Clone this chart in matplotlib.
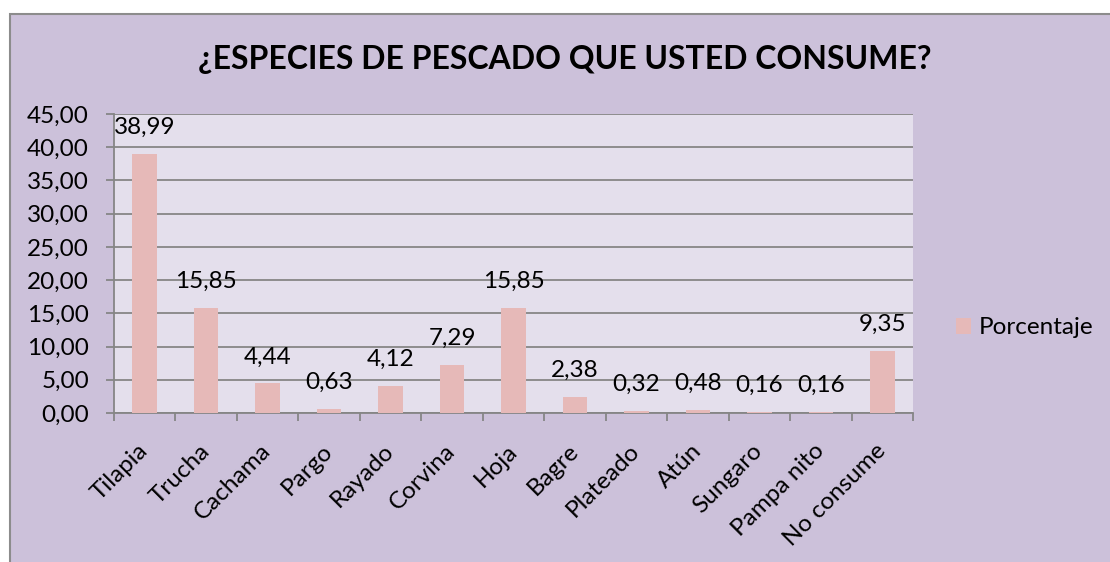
import matplotlib

matplotlib.use("Agg")
import matplotlib.pyplot as plt
from matplotlib.patches import Rectangle

# data
species = ["Tilapia", "Trucha", "Cachama", "Pargo", "Rayado", "Corvina", "Hoja",
           "Bagre", "Plateado", "Atún", "Sungaro", "Pampa nito", "No consume"]
porcentaje = [38.99, 15.85, 4.44, 0.63, 4.12, 7.29, 15.85, 2.38, 0.32, 0.48, 0.16, 0.16, 9.35]
y_ticks = [0, 5, 10, 15, 20, 25, 30, 35, 40, 45]

OUTER = "#CCC1DA"
INNER = "#E4DFEC"
BAR = "#E6B9B8"
GRID = "#868686"
FS = 17.5

plt.rcParams["font.family"] = ["Lato", "DejaVu Sans"]

W, H = 1110, 562
fig = plt.figure(figsize=(W / 100, H / 100), dpi=100)
fig.patch.set_facecolor("white")

# chart area panel (only left and top border visible in the reference)
fig.patches.append(Rectangle((10 / W, -0.1), 1.2, 1 - 14 / H + 0.1,
                             transform=fig.transFigure, facecolor=OUTER,
                             edgecolor="#8C8C8C", linewidth=1.5, zorder=-5))

ax = fig.add_axes([114 / W, 1 - 413 / H, 799 / W, 299 / H])
ax.set_zorder(2)
ax.set_facecolor(INNER)

x = list(range(len(species)))
bars = ax.bar(x, porcentaje, width=0.4, color=BAR, zorder=3, label="Porcentaje")

for xi, v in zip(x, porcentaje):
    ax.annotate(f"{v:.2f}".replace(".", ","), (xi, v), xytext=(0, 19),
                textcoords="offset points", ha="center", va="center",
                fontsize=FS, zorder=4)

ax.set_xlim(-0.5, len(species) - 0.5)
ax.set_ylim(0, 45)
ax.set_yticks(y_ticks)
ax.set_yticklabels([f"{t:.2f}".replace(".", ",") for t in y_ticks], fontsize=FS)
ax.yaxis.grid(True, color=GRID, linewidth=1.3, zorder=1)
ax.set_axisbelow(True)

# ticks between categories, labels at category centres
ax.set_xticks([i - 0.5 for i in range(len(species) + 1)])
ax.set_xticklabels([])
ax.set_xticks(x, minor=True)
ax.set_xticklabels(species, minor=True, rotation=45, ha="right", va="center",
                   rotation_mode="anchor", fontsize=FS)
ax.tick_params(axis="x", which="minor", length=0, pad=25)
ax.tick_params(axis="x", which="major", length=6, color=GRID, width=1.3)
ax.tick_params(axis="y", length=6, color=GRID, width=1.3, pad=12)

for side in ("top", "right"):
    ax.spines[side].set_visible(False)
for side in ("left", "bottom"):
    ax.spines[side].set_color(GRID)
    ax.spines[side].set_linewidth(1.3)

fig.text(565 / W, 1 - 60 / H, "¿ESPECIES DE PESCADO QUE USTED CONSUME?",
         ha="center", va="center", fontsize=23, fontweight="bold", zorder=3)

fig.legend(handles=[bars], labels=["Porcentaje"], loc="center left",
           bbox_to_anchor=(956 / W, 1 - 328 / H), frameon=False, fontsize=FS,
           borderpad=0, borderaxespad=0,
           handlelength=0.63, handleheight=0.63, handletextpad=0.3)

fig.savefig("out.png", dpi=100)
